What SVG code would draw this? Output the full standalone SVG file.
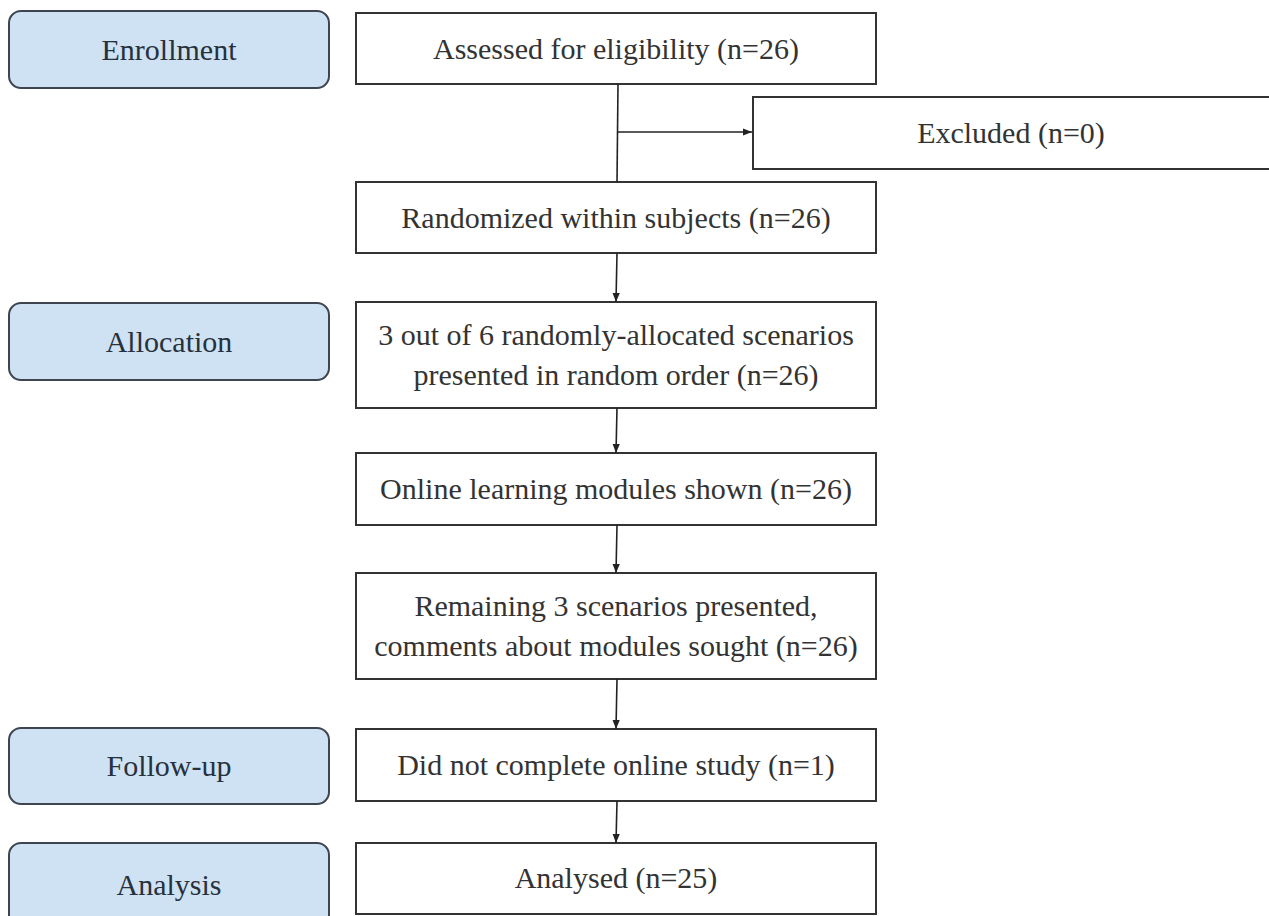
<svg xmlns="http://www.w3.org/2000/svg" width="1269" height="916" viewBox="0 0 1269 916">
<defs>
<style>
.stage rect{fill:#cfe2f3;stroke:#3e4550;stroke-width:2}
.stage text{fill:#27313d}
.box rect{fill:#fff;stroke:#333;stroke-width:2}
text{font-family:Liberation Serif,Tinos,Noto Serif,DejaVu Serif,Times,serif;font-size:30px;fill:#333;text-anchor:middle}
.conn{stroke:#222;stroke-width:1.6;fill:none}
</style>
<marker id="ah" viewBox="0 0 10 10" refX="10" refY="5" markerWidth="10" markerHeight="9" markerUnits="userSpaceOnUse" orient="auto">
<path d="M0,1 L10,5 L0,9 z" fill="#222"/>
</marker>
</defs>
<rect width="1269" height="916" fill="#fff"/>
<g id="enrollment" class="stage"><rect x="9" y="11" width="320" height="77" rx="12"/><text x="169" y="60">Enrollment</text></g>
<g id="allocation" class="stage"><rect x="9" y="303" width="320" height="77" rx="12"/><text x="169" y="352">Allocation</text></g>
<g id="followup" class="stage"><rect x="9" y="728" width="320" height="76" rx="12"/><text x="169" y="776">Follow-up</text></g>
<g id="analysis" class="stage"><rect x="9" y="843" width="320" height="90" rx="12"/><text x="169" y="895">Analysis</text></g>

<g id="assessed" class="box"><rect x="356" y="13" width="520" height="71"/><text x="616" y="59">Assessed for eligibility (n=26)</text></g>
<g id="excluded" class="box"><rect x="753" y="97" width="530" height="72"/><text x="1011" y="143">Excluded (n=0)</text></g>
<g id="randomized" class="box"><rect x="356" y="182" width="520" height="71"/><text x="616" y="228">Randomized within subjects (n=26)</text></g>
<g id="scenarios" class="box"><rect x="356" y="302" width="520" height="106"/><text x="616" y="345">3 out of 6 randomly-allocated scenarios</text><text x="616" y="385">presented in random order (n=26)</text></g>
<g id="modules" class="box"><rect x="356" y="453" width="520" height="72"/><text x="616" y="499">Online learning modules shown (n=26)</text></g>
<g id="remaining" class="box"><rect x="356" y="573" width="520" height="106"/><text x="616" y="616">Remaining 3 scenarios presented,</text><text x="616" y="656">comments about modules sought (n=26)</text></g>
<g id="incomplete" class="box"><rect x="356" y="729" width="520" height="72"/><text x="616" y="775">Did not complete online study (n=1)</text></g>
<g id="analysed" class="box"><rect x="356" y="843" width="520" height="71"/><text x="616" y="888">Analysed (n=25)</text></g>

<g id="connectors" class="conn">
<line x1="618" y1="84" x2="617" y2="182"/>
<line x1="618" y1="132" x2="752" y2="132" marker-end="url(#ah)"/>
<line x1="617" y1="253" x2="616" y2="302" marker-end="url(#ah)"/>
<line x1="617" y1="408" x2="616" y2="453" marker-end="url(#ah)"/>
<line x1="617" y1="525" x2="616" y2="573" marker-end="url(#ah)"/>
<line x1="617" y1="679" x2="616" y2="729" marker-end="url(#ah)"/>
<line x1="617" y1="801" x2="616" y2="843" marker-end="url(#ah)"/>
</g>
</svg>
